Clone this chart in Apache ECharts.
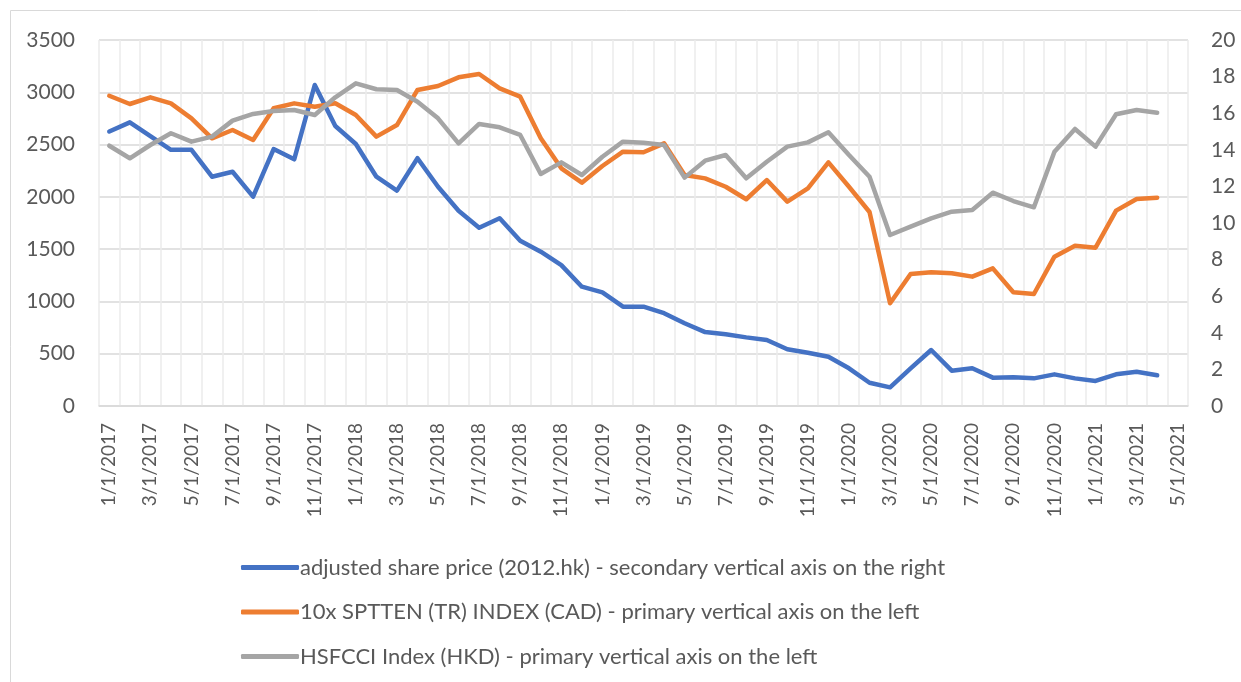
<!DOCTYPE html>
<html>
<head>
    <meta charset="utf-8">
    <title>share price vs indices</title>
    <script src="https://cdn.jsdelivr.net/npm/echarts@6/dist/echarts.min.js"></script>
    <style>
        html, body { margin: 0; padding: 0; background: #fff; }
        #main { width: 1241px; height: 682px; }
    </style>
</head>
<body>
<div id="main"></div>
<script type="text/javascript">
    // months, Jan 2017 .. May 2021 (last one has no data)
    var months = [
        '1/1/2017','2/1/2017','3/1/2017','4/1/2017','5/1/2017','6/1/2017','7/1/2017','8/1/2017','9/1/2017','10/1/2017','11/1/2017','12/1/2017',
        '1/1/2018','2/1/2018','3/1/2018','4/1/2018','5/1/2018','6/1/2018','7/1/2018','8/1/2018','9/1/2018','10/1/2018','11/1/2018','12/1/2018',
        '1/1/2019','2/1/2019','3/1/2019','4/1/2019','5/1/2019','6/1/2019','7/1/2019','8/1/2019','9/1/2019','10/1/2019','11/1/2019','12/1/2019',
        '1/1/2020','2/1/2020','3/1/2020','4/1/2020','5/1/2020','6/1/2020','7/1/2020','8/1/2020','9/1/2020','10/1/2020','11/1/2020','12/1/2020',
        '1/1/2021','2/1/2021','3/1/2021','4/1/2021','5/1/2021'
    ];

    // adjusted share price (right axis)
    var sharePrice = [
        15.0, 15.5, 14.75, 14.0, 14.0, 12.53, 12.8, 11.44, 14.04, 13.48, 17.54, 15.3,
        14.32, 12.53, 11.77, 13.54, 11.98, 10.67, 9.74, 10.26, 9.03, 8.43, 7.70, 6.52,
        6.21, 5.43, 5.43, 5.07, 4.52, 4.04, 3.92, 3.75, 3.61, 3.10, 2.91, 2.69,
        2.06, 1.27, 1.02, 2.06, 3.06, 1.93, 2.06, 1.55, 1.57, 1.51, 1.73, 1.51,
        1.37, 1.73, 1.87, 1.68
    ];

    // 10x SPTTEN (left axis)
    var sptten = [
        2967, 2888, 2952, 2894, 2751, 2560, 2639, 2544, 2847, 2894, 2862, 2895,
        2783, 2576, 2687, 3022, 3060, 3143, 3175, 3038, 2958, 2560, 2273, 2136,
        2295, 2432, 2426, 2512, 2209, 2177, 2097, 1977, 2161, 1954, 2082, 2330,
        2097, 1855, 982, 1262, 1278, 1269, 1237, 1316, 1087, 1071, 1428, 1533,
        1514, 1868, 1980, 1992
    ];

    // HSFCCI (left axis)
    var hsfcci = [
        2489, 2369, 2496, 2608, 2528, 2576, 2729, 2793, 2821, 2831, 2783, 2952,
        3086, 3029, 3022, 2910, 2751, 2512, 2697, 2665, 2592, 2219, 2330, 2209,
        2384, 2528, 2518, 2496, 2184, 2346, 2400, 2177, 2336, 2480, 2521, 2617,
        2400, 2193, 1635, 1715, 1795, 1858, 1874, 2040, 1960, 1900, 2432, 2649,
        2480, 2790, 2831, 2805
    ];

    var names = [
        'adjusted share price (2012.hk) - secondary vertical axis on the right',
        '10x SPTTEN (TR) INDEX (CAD) - primary vertical axis on the left',
        'HSFCCI Index (HKD) - primary vertical axis on the left'
    ];
    var colors = ['#4472C4', '#ED7D31', '#A5A5A5'];

    var font = 'Lato, "Open Sans", sans-serif';

    function lineSeries(name, data, axis, color) {
        return {
            name: name,
            type: 'line',
            yAxisIndex: axis,
            data: data,
            symbol: 'none',
            lineStyle: { color: color, width: 4.5, cap: 'round', join: 'round' },
            itemStyle: { color: color }
        };
    }

    var myChart = echarts.init(document.getElementById('main'));

    myChart.setOption({
        animation: false,
        textStyle: { fontFamily: font },
        graphic: [{
            type: 'rect',
            shape: { x: 10.5, y: 10.5, width: 1240, height: 680 },
            style: { fill: 'none', stroke: '#d9d9d9', lineWidth: 1 },
            silent: true
        }],
        grid: { left: 99, right: 53, top: 40, bottom: 276 },
        legend: {
            orient: 'vertical',
            left: 236,
            top: 551,
            itemWidth: 58,
            itemHeight: 5,
            itemGap: 21.5,
            icon: 'roundRect',
            data: names,
            textStyle: { fontFamily: font, fontSize: 22, color: '#595959', lineHeight: 23, padding: [0, 0, 0, -4] }
        },
        xAxis: {
            type: 'category',
            data: months,
            boundaryGap: true,
            axisLine: { lineStyle: { color: '#d9d9d9', width: 1.5 } },
            axisTick: { interval: 1, length: 6, lineStyle: { color: '#d9d9d9', width: 1.5 } },
            axisLabel: { interval: 1, rotate: 90, margin: 17, fontSize: 19, color: '#595959', fontFamily: font },
            splitLine: { show: true, interval: 0, lineStyle: { color: '#ebebeb', width: 1.5 } }
        },
        yAxis: [{
            type: 'value',
            min: 0,
            max: 3500,
            interval: 500,
            axisLine: { show: false },
            axisTick: { show: false },
            axisLabel: { margin: 24, fontSize: 21, color: '#595959', fontFamily: font, formatter: function (v) { return String(v); } },
            splitLine: { lineStyle: { color: '#d9d9d9', width: 1.5 } }
        }, {
            type: 'value',
            min: 0,
            max: 20,
            interval: 2,
            position: 'right',
            axisLine: { show: false },
            axisTick: { show: false },
            axisLabel: { margin: 23, fontSize: 21, color: '#595959', fontFamily: font },
            splitLine: { show: false }
        }],
        series: [
            lineSeries(names[0], sharePrice, 1, colors[0]),
            lineSeries(names[1], sptten, 0, colors[1]),
            lineSeries(names[2], hsfcci, 0, colors[2])
        ]
    });
</script>
</body>
</html>
